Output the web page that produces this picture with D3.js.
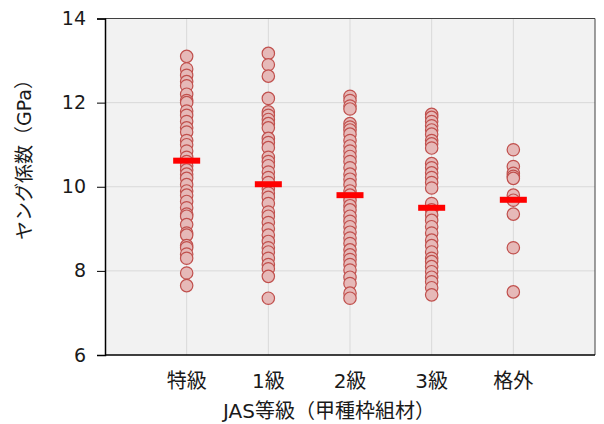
<!DOCTYPE html>
<html><head><meta charset="utf-8">
<script src="https://cdn.jsdelivr.net/npm/d3@7"></script>
<style>
body{margin:0;background:#fff;}
text{font-family:"DejaVu Sans","Noto Sans CJK JP",sans-serif;}
</style></head>
<body><svg id="c" width="604" height="424"></svg>
<script>
const categories = ["特級","1級","2級","3級","格外"];
const grade1Special = [13.1,12.8,12.65,12.5,12.4,12.2,12.05,12.0,11.8,11.7,11.55,11.4,11.3,11.1,11.0,10.85,10.7,10.6,10.5,10.4,10.3,10.2,10.05,9.9,9.8,9.65,9.5,9.35,9.3,9.1,8.9,8.85,8.6,8.55,8.4,8.3,7.95,7.65];
const grade1 = [13.17,12.9,12.63,12.1,11.78,11.7,11.6,11.5,11.4,11.15,11.05,10.93,10.7,10.6,10.5,10.35,10.22,10.1,9.95,9.85,9.75,9.6,9.4,9.3,9.15,9.0,8.85,8.7,8.55,8.45,8.3,8.15,8.05,7.87,7.35];
const grade2 = [12.15,12.05,11.92,11.85,11.5,11.42,11.35,11.25,11.1,10.97,10.85,10.72,10.6,10.45,10.3,10.18,10.05,9.9,9.8,9.68,9.55,9.45,9.3,9.18,9.05,8.92,8.78,8.65,8.5,8.38,8.27,8.15,8.02,7.85,7.7,7.47,7.35];
const grade3 = [11.72,11.65,11.55,11.45,11.35,11.25,11.1,11.02,10.92,10.55,10.45,10.33,10.22,10.1,9.97,9.6,9.45,9.33,9.2,9.05,8.9,8.73,8.6,8.45,8.3,8.22,8.1,7.98,7.85,7.74,7.6,7.43];
const gradeOut = [10.88,10.48,10.32,10.25,10.2,9.8,9.68,9.35,8.55,7.5];
const means = [10.62,10.06,9.8,9.5,9.69];
const yTicks = [6,8,10,12,14];

const seriesValues = [grade1Special, grade1, grade2, grade3, gradeOut];

const svg = d3.select("#c");
const L=105, R=595, T=18.5, B=355;
const x = d3.scaleLinear().domain([0,6]).range([L,R]);
const y = d3.scaleLinear().domain([6,14]).range([B,T]);

svg.append("rect").attr("x",L).attr("y",T).attr("width",R-L).attr("height",B-T).attr("fill","#f2f2f2");

// gridlines
svg.append("g").selectAll("line").data(yTicks.filter(d=>d>6&&d<14)).join("line")
  .attr("x1",L).attr("x2",R).attr("y1",d=>y(d)).attr("y2",d=>y(d))
  .attr("stroke","#d9d9d9").attr("stroke-width",1);
svg.append("g").selectAll("line").data(categories).join("line")
  .attr("x1",(d,i)=>x(i+1)).attr("x2",(d,i)=>x(i+1)).attr("y1",T).attr("y2",B)
  .attr("stroke","#d9d9d9").attr("stroke-width",1);

// frame top/right
svg.append("path").attr("d",`M${L},${T}H${R}V${B}`).attr("fill","none").attr("stroke","#404040").attr("stroke-width",1);

// points
seriesValues.forEach((vals,i)=>{
  svg.append("g").selectAll("circle").data(vals).join("circle")
    .attr("cx",x(i+1)).attr("cy",d=>y(d)).attr("r",6.2)
    .attr("fill","#e6b9b8").attr("stroke","#c0504d").attr("stroke-width",1.2);
});

// mean bars
svg.append("g").selectAll("rect").data(means).join("rect")
  .attr("x",(d,i)=>x(i+1)-13.5).attr("y",d=>y(d)-3).attr("width",27).attr("height",6)
  .attr("fill","#ff0000");

// y axis
const ya = svg.append("g").attr("transform",`translate(${L},0)`)
  .call(d3.axisLeft(y).tickValues(yTicks).tickSize(8).tickPadding(11).tickFormat(d3.format("d")));
ya.select(".domain").attr("stroke","#000").attr("stroke-width",1.5);
ya.selectAll(".tick line").attr("stroke","#000");
ya.selectAll("text").attr("font-size",19).attr("fill","#1a1a1a").style("font-family","DejaVu Sans");

// x axis line
svg.append("line").attr("x1",L).attr("x2",R).attr("y1",B).attr("y2",B).attr("stroke","#000").attr("stroke-width",1.5);

// x category labels
svg.append("g").selectAll("text").data(categories).join("text")
  .attr("x",(d,i)=>x(i+1)).attr("y",388).attr("text-anchor","middle")
  .attr("font-size",20).attr("fill","#1a1a1a").text(d=>d);

// axis titles
svg.append("text").attr("x",329).attr("y",418).attr("text-anchor","middle")
  .attr("font-size",20).attr("fill","#1a1a1a").text("JAS等級（甲種枠組材）");
svg.append("text").attr("transform","translate(31,155) rotate(-90)").attr("text-anchor","middle")
  .attr("font-size",19).attr("fill","#1a1a1a").text("ヤング係数（GPa）");
</script></body></html>
